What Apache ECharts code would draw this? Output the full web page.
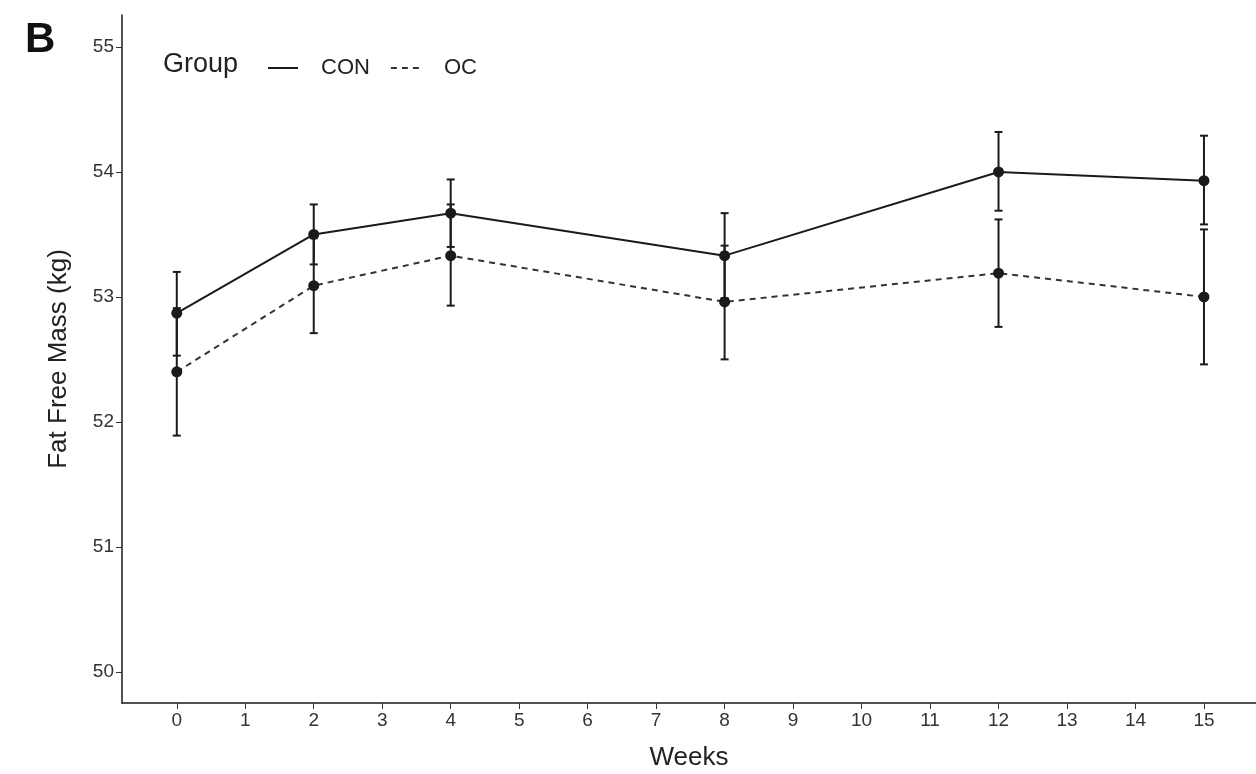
<!DOCTYPE html>
<html>
<head>
<meta charset="utf-8">
<script src="https://cdn.jsdelivr.net/npm/echarts@6/dist/echarts.min.js"></script>
<style>
html, body { margin: 0; padding: 0; background: #fff; }
#chart { width: 1256px; height: 774px; }
</style>
</head>
<body>
<div id="chart"></div>
<script>
// data
const weeks = [0, 2, 4, 8, 12, 15]
const conMean = [52.87, 53.50, 53.67, 53.33, 54.00, 53.93]
const conLower = [52.53, 53.26, 53.40, 52.99, 53.69, 53.58]
const conUpper = [53.20, 53.74, 53.94, 53.67, 54.32, 54.29]
const ocMean = [52.40, 53.09, 53.33, 52.96, 53.19, 53.00]
const ocLower = [51.89, 52.71, 52.93, 52.50, 52.76, 52.46]
const ocUpper = [52.91, 53.47, 53.74, 53.41, 53.62, 53.54]
const xTicks = [0, 1, 2, 3, 4, 5, 6, 7, 8, 9, 10, 11, 12, 13, 14, 15]
const yTicks = [50, 51, 52, 53, 54, 55]

const font = 'Liberation Sans, Arial, sans-serif'
const ink = '#1a1a1a'

function pts(mean) {
    return weeks.map((w, i) => [w, mean[i]])
}
function bars(lower, upper) {
    return weeks.map((w, i) => [w, lower[i], upper[i]])
}

// error bar with caps
function errorBar(params, api) {
    const lo = api.coord([api.value(0), api.value(1)])
    const hi = api.coord([api.value(0), api.value(2)])
    const hw = 4
    const style = { stroke: ink, lineWidth: 2 }
    return {
        type: 'group',
        children: [
            { type: 'line', shape: { x1: lo[0], y1: lo[1], x2: hi[0], y2: hi[1] }, style: style },
            { type: 'line', shape: { x1: lo[0] - hw, y1: lo[1], x2: lo[0] + hw, y2: lo[1] }, style: style },
            { type: 'line', shape: { x1: hi[0] - hw, y1: hi[1], x2: hi[0] + hw, y2: hi[1] }, style: style }
        ]
    }
}

const chart = echarts.init(document.getElementById('chart'))
chart.setOption({
    backgroundColor: '#fff',
    animation: false,
    title: {
        text: 'B',
        left: 20,
        top: 14,
        textStyle: { fontFamily: font, fontSize: 42, fontWeight: 'bold', color: '#111' }
    },
    graphic: [
        {
            type: 'text',
            left: 163,
            top: 51,
            style: { text: 'Group', fontFamily: font, fontSize: 27, fill: '#222' }
        }
    ],
    legend: {
        left: 262,
        top: 52,
        itemWidth: 30,
        itemHeight: 14,
        itemGap: 20,
        itemStyle: { opacity: 0 },
        textStyle: { fontFamily: font, fontSize: 22, color: '#222', padding: [0, 0, 0, 18] },
        data: ['CON', 'OC']
    },
    grid: {
        left: 122,
        right: 0,
        top: 15,
        bottom: 71,
        containLabel: false,
        outerBoundsMode: 'none'
    },
    xAxis: {
        type: 'value',
        min: -0.8,
        max: 15.76,
        name: 'Weeks',
        nameLocation: 'middle',
        nameGap: 42,
        nameTextStyle: { fontFamily: font, fontSize: 26, color: '#222' },
        axisLine: { show: true, onZero: false, lineStyle: { color: ink, width: 1.5 } },
        axisTick: { show: true, customValues: xTicks, length: 6, lineStyle: { color: '#333' } },
        axisLabel: { customValues: xTicks, fontFamily: font, fontSize: 19, color: '#333', margin: 8 },
        splitLine: { show: false }
    },
    yAxis: {
        type: 'value',
        min: 49.75,
        max: 55.256,
        name: 'Fat Free Mass (kg)',
        nameLocation: 'middle',
        nameGap: 50,
        nameTextStyle: { fontFamily: font, fontSize: 26, color: '#222' },
        axisLine: { show: true, onZero: false, lineStyle: { color: ink, width: 1.5 } },
        axisTick: { show: true, customValues: yTicks, length: 6, lineStyle: { color: '#333' } },
        axisLabel: { customValues: yTicks, fontFamily: font, fontSize: 19, color: '#333', margin: 8 },
        splitLine: { show: false }
    },
    series: [
        {
            name: 'CON bars',
            type: 'custom',
            renderItem: errorBar,
            data: bars(conLower, conUpper),
            z: 2
        },
        {
            name: 'OC bars',
            type: 'custom',
            renderItem: errorBar,
            data: bars(ocLower, ocUpper),
            z: 2
        },
        {
            name: 'CON',
            type: 'line',
            data: pts(conMean),
            symbol: 'circle',
            symbolSize: 11,
            itemStyle: { color: ink },
            lineStyle: { color: ink, width: 2, type: 'solid' },
            z: 3
        },
        {
            name: 'OC',
            type: 'line',
            data: pts(ocMean),
            symbol: 'circle',
            symbolSize: 11,
            itemStyle: { color: ink },
            lineStyle: { color: '#333', width: 2, type: [6, 5] },
            z: 3
        }
    ]
})
</script>
</body>
</html>
